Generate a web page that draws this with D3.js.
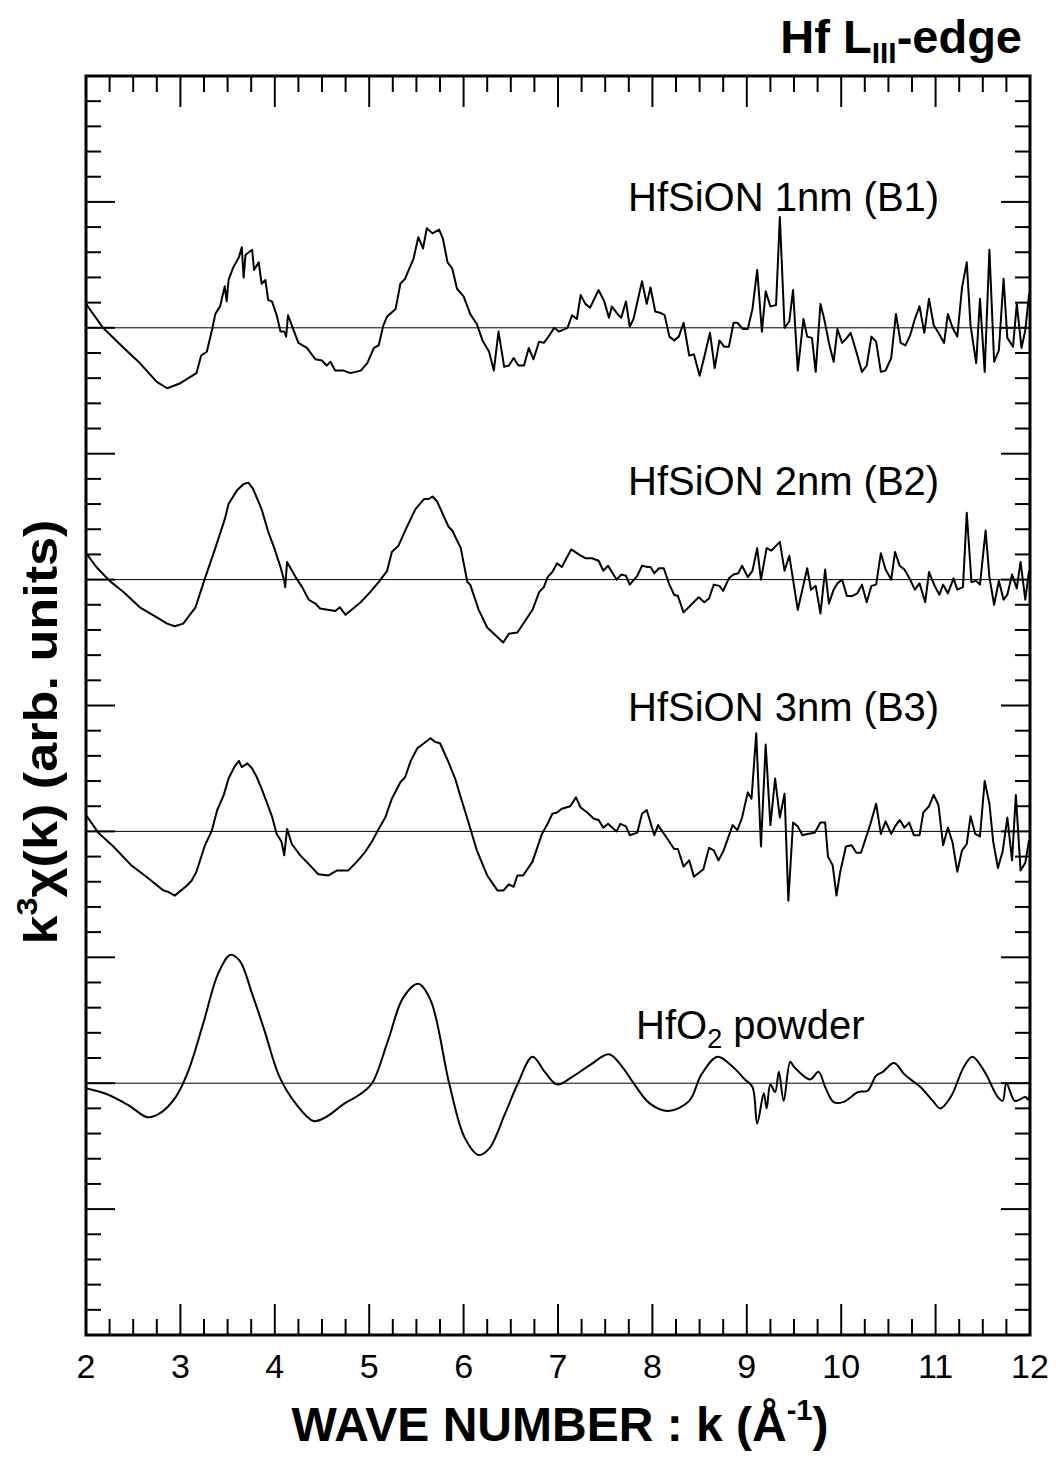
<!DOCTYPE html>
<html>
<head>
<meta charset="utf-8">
<script src="https://cdn.jsdelivr.net/npm/d3@7"></script>
<style>
  body { margin: 0; background: #fff; }
  text { font-family: "Liberation Sans", Arial, sans-serif; fill: #000; }
</style>
</head>
<body>
<svg id="chart" width="1056" height="1464"></svg>
<script>
// k values (1/A) and k^3 chi(k), relative to each baseline
const b1 = [[2.00,0.19],[2.18,0],[2.40,-0.16],[2.57,-0.28],[2.75,-0.43],[2.86,-0.48],[3.00,-0.44],[3.17,-0.36],[3.22,-0.22],[3.28,-0.19],[3.34,0],[3.37,0.11],[3.42,0.17],[3.47,0.33],[3.49,0.21],[3.51,0.38],[3.56,0.48],[3.62,0.56],[3.65,0.64],[3.67,0.40],[3.69,0.58],[3.76,0.62],[3.78,0.46],[3.83,0.52],[3.86,0.35],[3.90,0.38],[3.93,0.22],[3.97,0.21],[4.02,0.10],[4.06,-0.03],[4.10,-0.03],[4.12,-0.07],[4.14,0.10],[4.18,0.02],[4.25,-0.12],[4.34,-0.16],[4.43,-0.25],[4.50,-0.26],[4.55,-0.30],[4.59,-0.27],[4.64,-0.34],[4.73,-0.34],[4.80,-0.36],[4.91,-0.34],[4.98,-0.28],[5.05,-0.16],[5.10,-0.14],[5.15,0.02],[5.19,0.09],[5.28,0.15],[5.33,0.35],[5.38,0.39],[5.47,0.55],[5.52,0.72],[5.57,0.63],[5.61,0.79],[5.67,0.75],[5.74,0.78],[5.78,0.71],[5.83,0.52],[5.88,0.47],[5.93,0.31],[6.00,0.25],[6.07,0.11],[6.14,0.03],[6.20,-0.10],[6.27,-0.19],[6.32,-0.34],[6.37,-0.03],[6.43,-0.31],[6.48,-0.30],[6.53,-0.24],[6.58,-0.30],[6.64,-0.30],[6.69,-0.16],[6.74,-0.25],[6.80,-0.11],[6.85,-0.12],[6.90,-0.07],[6.96,0],[7.01,-0.03],[7.10,0],[7.15,0.10],[7.20,0.07],[7.24,0.26],[7.29,0.19],[7.34,0.16],[7.43,0.30],[7.49,0.21],[7.54,0.08],[7.57,0.17],[7.63,0.11],[7.67,0.08],[7.72,0.21],[7.76,0.01],[7.80,0.07],[7.89,0.37],[7.94,0.19],[7.98,0.32],[8.03,0.13],[8.08,0.12],[8.13,0.10],[8.18,-0.07],[8.23,-0.10],[8.28,-0.07],[8.33,0.04],[8.39,-0.22],[8.44,-0.21],[8.50,-0.38],[8.55,-0.23],[8.61,-0.04],[8.66,-0.32],[8.71,-0.10],[8.76,-0.15],[8.81,-0.15],[8.86,0.04],[8.90,0.04],[8.96,-0.01],[9.01,-0.01],[9.06,0.15],[9.11,0.46],[9.16,-0.03],[9.20,0.29],[9.25,0.17],[9.31,0.18],[9.35,0.88],[9.40,0],[9.45,0.05],[9.49,0.30],[9.54,-0.34],[9.60,0.07],[9.64,-0.07],[9.69,-0.08],[9.73,-0.35],[9.78,0.19],[9.82,0.07],[9.87,-0.12],[9.92,-0.27],[9.96,-0.01],[10.01,-0.12],[10.06,-0.08],[10.10,-0.04],[10.16,-0.19],[10.22,-0.35],[10.27,-0.30],[10.32,-0.07],[10.37,-0.11],[10.42,-0.35],[10.47,-0.34],[10.53,-0.24],[10.58,0.11],[10.63,-0.12],[10.68,-0.14],[10.73,-0.06],[10.78,0.07],[10.83,0.17],[10.88,-0.04],[10.93,0.23],[10.98,0.02],[11.03,-0.04],[11.09,-0.12],[11.13,0.11],[11.18,0],[11.23,-0.07],[11.28,0.32],[11.33,0.52],[11.37,0.02],[11.43,-0.28],[11.47,0.23],[11.52,-0.35],[11.57,0.62],[11.62,-0.27],[11.67,-0.18],[11.72,0.39],[11.76,-0.08],[11.82,-0.15],[11.86,0.19],[11.91,-0.16],[11.95,-0.02],[11.99,0.27]];

const b2 = [[2.00,0.21],[2.11,0.10],[2.25,-0.01],[2.40,-0.10],[2.57,-0.22],[2.75,-0.30],[2.86,-0.35],[2.94,-0.37],[3.03,-0.35],[3.07,-0.31],[3.16,-0.22],[3.26,0.01],[3.37,0.25],[3.47,0.48],[3.51,0.60],[3.60,0.71],[3.67,0.76],[3.72,0.77],[3.77,0.72],[3.86,0.56],[3.93,0.38],[3.99,0.26],[4.06,0.10],[4.10,-0.01],[4.11,-0.06],[4.13,0.14],[4.22,0.02],[4.29,-0.06],[4.36,-0.16],[4.43,-0.19],[4.48,-0.23],[4.64,-0.25],[4.69,-0.22],[4.75,-0.28],[4.83,-0.23],[4.91,-0.18],[5.01,-0.10],[5.10,-0.02],[5.19,0.07],[5.24,0.22],[5.31,0.27],[5.40,0.42],[5.49,0.56],[5.58,0.64],[5.63,0.64],[5.67,0.66],[5.72,0.62],[5.84,0.42],[5.88,0.39],[5.97,0.25],[6.04,-0.02],[6.07,-0.04],[6.16,-0.24],[6.25,-0.38],[6.42,-0.50],[6.48,-0.43],[6.57,-0.42],[6.73,-0.24],[6.80,-0.10],[6.85,-0.06],[6.89,0.02],[6.94,0.06],[6.99,0.13],[7.04,0.10],[7.14,0.24],[7.24,0.19],[7.29,0.17],[7.36,0.17],[7.43,0.15],[7.48,0.07],[7.53,0.11],[7.62,0.00],[7.67,0.04],[7.72,0.03],[7.76,-0.04],[7.84,0.03],[7.89,0.11],[7.95,0.10],[7.98,0.10],[8.02,0.05],[8.07,0.09],[8.12,0.09],[8.18,-0.04],[8.23,-0.12],[8.27,-0.13],[8.33,-0.26],[8.49,-0.14],[8.55,-0.18],[8.60,-0.15],[8.65,-0.04],[8.71,-0.05],[8.75,-0.09],[8.81,0.01],[8.86,0.04],[8.91,0.05],[8.95,0.11],[9.01,0.02],[9.06,0.07],[9.11,0.25],[9.15,0.00],[9.21,0.25],[9.26,0.23],[9.35,0.30],[9.40,0.07],[9.45,0.19],[9.49,0.00],[9.54,-0.24],[9.64,0.09],[9.68,-0.08],[9.73,-0.05],[9.78,-0.27],[9.83,0.08],[9.87,-0.19],[9.92,-0.08],[9.96,-0.03],[10.01,0.00],[10.06,-0.13],[10.12,-0.13],[10.17,-0.11],[10.22,-0.04],[10.27,-0.18],[10.32,-0.05],[10.37,-0.04],[10.42,0.21],[10.47,0.08],[10.53,0.00],[10.57,0.22],[10.62,0.11],[10.67,0.08],[10.73,0.00],[10.78,-0.08],[10.83,-0.03],[10.89,-0.18],[10.93,0.06],[10.99,-0.05],[11.04,-0.12],[11.08,-0.04],[11.13,-0.11],[11.19,0.01],[11.23,-0.08],[11.29,-0.06],[11.33,0.53],[11.38,-0.02],[11.43,-0.01],[11.47,-0.04],[11.53,0.39],[11.57,0.02],[11.62,-0.20],[11.67,-0.01],[11.72,-0.16],[11.76,-0.12],[11.81,0.04],[11.86,-0.07],[11.90,0.14],[11.95,-0.16],[11.99,0.07]];

const b3 = [[2.00,0.13],[2.13,-0.01],[2.29,-0.12],[2.48,-0.27],[2.64,-0.36],[2.82,-0.47],[2.87,-0.48],[2.94,-0.51],[3.07,-0.43],[3.12,-0.39],[3.17,-0.32],[3.26,-0.11],[3.33,0.00],[3.39,0.17],[3.46,0.29],[3.51,0.42],[3.57,0.51],[3.62,0.56],[3.65,0.51],[3.71,0.54],[3.76,0.50],[3.81,0.43],[3.86,0.34],[3.92,0.22],[3.97,0.12],[4.02,-0.02],[4.07,-0.08],[4.10,-0.19],[4.13,0.02],[4.18,-0.10],[4.27,-0.19],[4.36,-0.26],[4.46,-0.34],[4.57,-0.35],[4.66,-0.31],[4.78,-0.31],[4.87,-0.24],[4.96,-0.16],[5.03,-0.08],[5.10,0.02],[5.17,0.11],[5.24,0.26],[5.33,0.39],[5.38,0.43],[5.44,0.56],[5.51,0.66],[5.58,0.70],[5.65,0.74],[5.70,0.71],[5.75,0.70],[5.84,0.55],[5.91,0.42],[5.97,0.27],[6.04,0.10],[6.14,-0.15],[6.25,-0.35],[6.36,-0.47],[6.42,-0.47],[6.48,-0.42],[6.53,-0.44],[6.57,-0.35],[6.63,-0.35],[6.73,-0.24],[6.83,-0.02],[6.89,0.06],[6.94,0.14],[6.99,0.15],[7.04,0.18],[7.13,0.20],[7.19,0.27],[7.24,0.19],[7.31,0.15],[7.38,0.10],[7.43,0.09],[7.48,0.03],[7.53,0.06],[7.62,0.00],[7.66,0.06],[7.72,0.04],[7.76,-0.03],[7.84,-0.01],[7.89,0.14],[7.94,0.17],[8.02,-0.03],[8.06,0.05],[8.16,-0.06],[8.23,-0.14],[8.27,-0.14],[8.33,-0.28],[8.39,-0.23],[8.44,-0.36],[8.54,-0.30],[8.60,-0.13],[8.65,-0.15],[8.70,-0.23],[8.75,-0.16],[8.85,0.05],[8.90,0.01],[8.95,0.11],[9.01,0.31],[9.05,0.26],[9.10,0.78],[9.15,-0.12],[9.20,0.69],[9.25,0.05],[9.30,0.42],[9.35,0.11],[9.40,0.30],[9.44,-0.55],[9.49,0.07],[9.54,0.04],[9.59,-0.03],[9.64,-0.02],[9.72,-0.01],[9.78,0.07],[9.83,0.07],[9.86,-0.20],[9.91,-0.27],[9.95,-0.51],[9.99,-0.32],[10.05,-0.12],[10.11,-0.11],[10.16,-0.17],[10.21,-0.17],[10.31,0.06],[10.37,0.22],[10.42,-0.02],[10.47,0.08],[10.53,-0.02],[10.57,0.04],[10.62,0.09],[10.67,0.03],[10.72,0.07],[10.77,-0.03],[10.83,-0.03],[10.87,0.15],[10.93,0.20],[10.98,0.29],[11.03,0.21],[11.08,-0.11],[11.13,0.03],[11.18,-0.09],[11.23,-0.32],[11.28,-0.15],[11.33,-0.10],[11.37,0.12],[11.42,-0.02],[11.47,-0.04],[11.52,0.40],[11.57,0.22],[11.61,-0.08],[11.66,-0.29],[11.71,-0.16],[11.76,0.11],[11.81,-0.23],[11.85,0.29],[11.90,-0.31],[11.95,-0.25],[11.99,-0.07]];

const hfo2 = [[2.00,-0.04],[2.23,-0.09],[2.46,-0.18],[2.65,-0.27],[2.78,-0.24],[2.95,-0.11],[3.08,0.09],[3.24,0.47],[3.40,0.87],[3.53,1.02],[3.63,0.97],[3.76,0.71],[3.89,0.42],[4.05,0.05],[4.22,-0.16],[4.41,-0.30],[4.54,-0.27],[4.74,-0.16],[4.90,-0.09],[5.03,0.00],[5.20,0.34],[5.36,0.68],[5.52,0.79],[5.65,0.66],[5.85,-0.01],[6.01,-0.43],[6.16,-0.57],[6.27,-0.52],[6.44,-0.24],[6.57,-0.01],[6.73,0.21],[6.86,0.09],[6.99,-0.01],[7.15,0.05],[7.35,0.15],[7.54,0.23],[7.68,0.13],[7.81,-0.01],[7.97,-0.16],[8.17,-0.22],[8.39,-0.14],[8.52,0.07],[8.69,0.21],[8.85,0.13],[8.98,0.03],[9.06,-0.03],[9.11,-0.32],[9.18,-0.08],[9.21,-0.20],[9.25,-0.01],[9.30,-0.07],[9.34,0.09],[9.39,-0.14],[9.46,0.17],[9.50,0.13],[9.67,0.03],[9.76,0.09],[9.83,-0.03],[9.92,-0.15],[10.02,-0.15],[10.18,-0.07],[10.28,-0.06],[10.37,0.06],[10.44,0.09],[10.56,0.16],[10.67,0.07],[10.77,0.01],[10.84,-0.03],[10.97,-0.14],[11.05,-0.20],[11.16,-0.11],[11.30,0.13],[11.39,0.21],[11.52,0.09],[11.65,-0.10],[11.71,-0.14],[11.75,0.00],[11.84,-0.14],[11.95,-0.11],[11.98,-0.13],[12.00,-0.01]];

const offsets = [8, 6, 4, 2];
const xTicks = [2, 3, 4, 5, 6, 7, 8, 9, 10, 11, 12];
const labels = ["HfSiON 1nm (B1)", "HfSiON 2nm (B2)", "HfSiON 3nm (B3)"];

var svg = d3.select("#chart");
// note: "top" is taken by window.top, so use other names
var pL = 86, pR = 1030, pT = 76, pB = 1335;

var x = d3.scaleLinear().domain([2, 12]).range([pL, pR]);
var y = d3.scaleLinear().domain([0, 10]).range([pB, pT]);

// ticks, all pointing inward
var xMinor = d3.range(2, 12.001, 0.25);
var yMinor = d3.range(0, 10.001, 0.2);
function isMajor(v) { return Math.abs(v - Math.round(v)) < 1e-6; }

var tk = svg.append("g").attr("stroke", "#000").attr("stroke-width", 2);
xMinor.forEach(function (v) {
  var len = isMajor(v) ? 31 : 16;
  tk.append("line").attr("x1", x(v)).attr("x2", x(v)).attr("y1", pB).attr("y2", pB - len);
  tk.append("line").attr("x1", x(v)).attr("x2", x(v)).attr("y1", pT).attr("y2", pT + len);
});
yMinor.forEach(function (v) {
  var len = isMajor(v) ? 29 : 15;
  tk.append("line").attr("y1", y(v)).attr("y2", y(v)).attr("x1", pL).attr("x2", pL + len);
  tk.append("line").attr("y1", y(v)).attr("y2", y(v)).attr("x1", pR).attr("x2", pR - len);
});

// zero lines for every spectrum
offsets.forEach(function (o) {
  svg.append("line")
    .attr("x1", x(2)).attr("x2", x(12))
    .attr("y1", y(o)).attr("y2", y(o))
    .attr("stroke", "#000").attr("stroke-width", 1);
});

svg.append("clipPath").attr("id", "clip")
  .append("rect").attr("x", pL).attr("y", pT).attr("width", pR - pL).attr("height", pB - pT);

var series = [b1, b2, b3, hfo2];
series.forEach(function (d, i) {
  var line = d3.line()
    .x(function (p) { return x(p[0]); })
    .y(function (p) { return y(offsets[i] + p[1]); });
  if (i == 3) line.curve(d3.curveCatmullRom);
  svg.append("path")
    .datum(d)
    .attr("clip-path", "url(#clip)")
    .attr("d", line)
    .attr("fill", "none")
    .attr("stroke", "#000")
    .attr("stroke-width", 2)
    .attr("stroke-linejoin", "round");
});

// frame
svg.append("rect")
  .attr("x", pL).attr("y", pT).attr("width", pR - pL).attr("height", pB - pT)
  .attr("fill", "none").attr("stroke", "#000").attr("stroke-width", 3);

// tick labels
svg.append("g").selectAll("text")
  .data(xTicks).enter().append("text")
  .attr("x", function (d) { return x(d); })
  .attr("y", 1378)
  .attr("text-anchor", "middle")
  .attr("font-size", 34)
  .text(function (d) { return d; });

// spectrum labels
var labY = [211, 495, 721];
labels.forEach(function (d, i) {
  svg.append("text").attr("x", 628).attr("y", labY[i]).attr("font-size", 40).text(d);
});
var h = svg.append("text").attr("x", 636).attr("y", 1039).attr("font-size", 40);
h.append("tspan").text("HfO");
h.append("tspan").attr("font-size", 27).attr("dy", 9).text("2");
h.append("tspan").attr("dy", -9).text(" powder");

// title
var t = svg.append("text").attr("x", 1022).attr("y", 53).attr("text-anchor", "end")
  .attr("font-size", 47).attr("font-weight", "bold");
t.append("tspan").text("Hf L");
t.append("tspan").attr("font-size", 30).attr("dy", 10).text("III");
t.append("tspan").attr("dy", -10).text("-edge");

// x axis title
var xt = svg.append("text").attr("x", 560).attr("y", 1441).attr("text-anchor", "middle")
  .attr("font-size", 48).attr("font-weight", "bold");
xt.append("tspan").text("WAVE NUMBER : k (Å");
xt.append("tspan").attr("font-size", 29).attr("dy", -21).text("-1");
xt.append("tspan").attr("dy", 21).text(")");

// y axis title
var yt = svg.append("text").attr("transform", "translate(57,732) rotate(-90)")
  .attr("text-anchor", "middle").attr("font-size", 47).attr("font-weight", "bold");
yt.append("tspan").text("k");
yt.append("tspan").attr("font-size", 29).attr("dy", -20).text("3");
yt.append("tspan").attr("dy", 20).text("χ(k) (arb. units)");
var yLen = yt.node().getComputedTextLength();
yt.attr("textLength", 425).attr("lengthAdjust", "spacingAndGlyphs");
</script>
</body>
</html>
